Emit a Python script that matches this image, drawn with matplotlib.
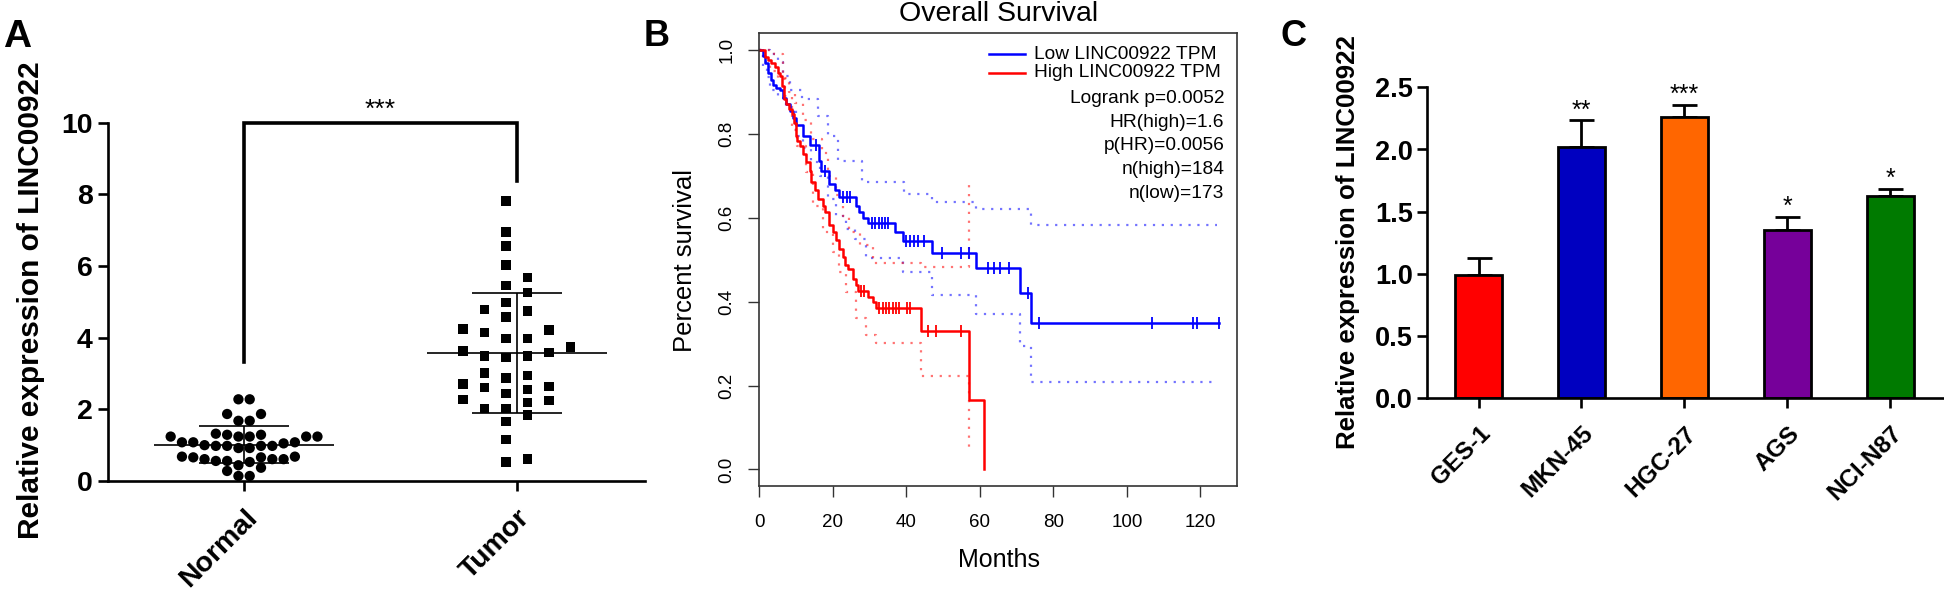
import numpy as np
import matplotlib
matplotlib.use("Agg")
import matplotlib.pyplot as plt
import matplotlib.transforms as mtransforms

plt.rcParams['font.family'] = ['Liberation Sans', 'DejaVu Sans']

# ---------------- panel A data ----------------
groups = ['Normal', 'Tumor']
normal_vals = [2.28, 2.28, 1.87, 1.87, 1.68, 1.68, 1.29, 1.24, 1.24, 1.32,
               1.24, 1.29, 1.24, 1.24, 0.92, 1.05, 1.08, 0.98, 0.98, 0.98,
               0.98, 1.08, 1.00, 0.92, 1.08, 0.44, 0.68, 0.56, 0.61, 0.53,
               0.66, 0.66, 0.61, 0.56, 0.61, 0.68, 0.14, 0.37, 0.14, 0.28]
tumor_vals = [7.81, 6.95, 6.56, 6.03, 5.68, 5.45, 5.26, 4.98, 4.79, 4.74,
              4.58, 4.21, 4.14, 4.24, 3.97, 3.97, 3.74, 3.44, 3.49, 3.49,
              3.63, 3.58, 3.02, 2.95, 2.87, 2.71, 2.56, 2.61, 2.63, 2.45,
              2.19, 2.28, 2.24, 2.03, 2.03, 1.84, 1.66, 1.16, 0.53, 0.61]

# ---------------- panel B data ----------------
low_t = [0.9, 1.5, 2.4, 3.1, 3.8, 4.7, 5.6, 6.5, 7.4, 8.3, 9.2, 9.9, 11.9, 13.7,
         16.2, 16.9, 19.1, 20.5, 21.8, 26.4, 27.1, 28.2, 29.5, 36.9, 39.0, 46.9,
         59.0, 71.0, 74.0]
low_s = [0.985, 0.968, 0.945, 0.929, 0.917, 0.909, 0.905, 0.886, 0.870, 0.854,
         0.838, 0.822, 0.795, 0.773, 0.736, 0.712, 0.680, 0.665, 0.649, 0.629,
         0.613, 0.599, 0.587, 0.566, 0.545, 0.516, 0.481, 0.420, 0.350]
low_end = 125
low_cens = [15.5, 17.8, 22.9, 23.8, 24.7, 30.7, 31.6, 32.5, 33.4, 34.3, 35.1,
            39.9, 41.0, 42.0, 43.1, 44.8, 49.8, 55.0, 57.0, 62.3, 63.8, 65.4,
            68.0, 73.0, 76.0, 106.9, 118.0, 119.0, 125.0]

high_t = [1.5, 2.4, 3.3, 4.2, 5.0, 5.6, 6.3, 6.7, 7.4, 8.1, 8.8, 9.4, 9.9, 10.3,
          11.0, 11.9, 12.8, 13.7, 14.2, 15.1, 16.0, 17.3, 18.0, 19.0, 20.0, 20.9,
          21.8, 22.7, 23.2, 24.1, 25.6, 26.4, 26.8, 29.5, 30.9, 31.8, 44.0, 57.0,
          61.1]
high_s = [0.984, 0.976, 0.968, 0.960, 0.945, 0.937, 0.913, 0.882, 0.870, 0.858,
          0.846, 0.826, 0.795, 0.783, 0.771, 0.751, 0.732, 0.712, 0.684, 0.665,
          0.645, 0.629, 0.613, 0.582, 0.566, 0.546, 0.526, 0.507, 0.487, 0.477,
          0.455, 0.440, 0.425, 0.412, 0.398, 0.384, 0.329, 0.165, 0.0]
high_cens = [27.7, 28.6, 32.7, 33.6, 34.5, 35.4, 36.3, 37.2, 38.1, 40.1, 41.0,
             46.0, 48.0, 55.0]

low_up_t = [3, 5, 6.5, 8.3, 11.7, 16, 18.7, 21.4, 28, 39.4, 47, 59, 74]
low_up_s = [0.99, 0.97, 0.937, 0.905, 0.884, 0.842, 0.795, 0.736, 0.684, 0.657,
            0.637, 0.62, 0.583]
low_lo_t = [1, 2, 3, 5, 7.4, 10, 12, 14, 16.4, 18.7, 21, 23.6, 26, 29, 39, 47,
            59, 71, 74]
low_lo_s = [0.96, 0.935, 0.905, 0.885, 0.858, 0.795, 0.765, 0.732, 0.70, 0.645,
            0.605, 0.574, 0.55, 0.503, 0.471, 0.416, 0.37, 0.294, 0.209]
low_ci_end = 124.5

high_up_t = [4, 6.5, 8, 9.7, 12, 14, 17, 18.7, 21, 22.7, 24.5, 27.3, 31, 44, 57]
high_up_s = [0.99, 0.933, 0.90, 0.874, 0.834, 0.787, 0.755, 0.70, 0.653, 0.605,
             0.566, 0.534, 0.491, 0.483, 0.688]
high_lo_t = [1, 3, 5, 7, 8.8, 10.3, 12.8, 14.6, 17.3, 20, 21.8, 23.6, 26.4, 29,
             31.8, 44, 57]
high_lo_s = [0.97, 0.95, 0.93, 0.89, 0.81, 0.771, 0.708, 0.629, 0.566, 0.519,
             0.471, 0.424, 0.361, 0.321, 0.302, 0.223, 0.045]
high_ci_end = 57

legend_labels = ['Low LINC00922 TPM', 'High LINC00922 TPM']
stats_lines = ['Logrank p=0.0052', 'HR(high)=1.6', 'p(HR)=0.0056',
               'n(high)=184', 'n(low)=173']

# ---------------- panel C data ----------------
cell_lines = ['GES-1', 'MKN-45', 'HGC-27', 'AGS', 'NCI-N87']
cell_vals = [0.99, 2.02, 2.26, 1.35, 1.63]
cell_err = [0.135, 0.215, 0.10, 0.11, 0.055]
cell_sig = ['', '**', '***', '*', '*']
cell_colors = ['#FF0000', '#0000C0', '#FF6600', '#76009A', '#007A00']

W, H = 1944, 591


def fx(px):
    return px / W


def fy(px):
    return 1 - px / H


def swarm_slots(vals, diam):
    """gridded beeswarm: half-integer slots, same slot needs diam gap"""
    vals = np.asarray(vals)
    slots = np.zeros(len(vals))
    placed = []
    for i in np.argsort(vals):
        k = 0
        done = False
        while not done:
            for c in (-(k + 0.5), k + 0.5):
                if all(abs(ps - c) >= 1 or abs(py - vals[i]) >= diam
                       for ps, py in placed):
                    slots[i] = c
                    placed.append((c, vals[i]))
                    done = True
                    break
            k += 1
    return slots


def km_xy(t, s, end):
    x = np.r_[0, t, end]
    y = np.r_[1.0, s, s[-1]]
    return x, y


def stars(ax, x, y, txt, fs):
    # put the ink centre of the asterisks at y
    ax.annotate(txt, (x, y), xytext=(0, -0.54 * fs), textcoords='offset points',
                ha='center', va='baseline', fontsize=fs, annotation_clip=False)


fig = plt.figure(figsize=(W / 100, H / 100), dpi=100)
bold = dict(fontweight='bold')
shift = mtransforms.ScaledTranslation(4 / 72, 0, fig.dpi_scale_trans)

# ======================= A =======================
axA = fig.add_axes([fx(107.7), fy(481), fx(645 - 107.7), (481 - 122.7) / H])
for pos, vals, mk, step, diam, ms in [(0, normal_vals, 'o', 0.0414, 0.27, 55),
                                      (1, tumor_vals, 's', 0.079, 0.33, 46)]:
    slots = swarm_slots(vals, diam)
    axA.scatter(pos + slots * step, vals, marker=mk, s=ms, color='black',
                edgecolors='none', zorder=3, clip_on=False)
    m = np.mean(vals)
    sd = np.std(vals, ddof=1)
    axA.hlines(m, pos - 0.33, pos + 0.33, color='black', lw=1.2, zorder=4)
    axA.hlines([m - sd, m + sd], pos - 0.165, pos + 0.165, color='black', lw=1.2, zorder=4)
    axA.vlines(pos, m - sd, m + sd, color='black', lw=1.2, zorder=4)

# significance bracket
bracket_top = 10
axA.plot([0, 0, 1, 1], [max(normal_vals) + 1.04, bracket_top, bracket_top, max(tumor_vals) + 0.55],
         color='black', lw=2.6, clip_on=False, solid_joinstyle='miter')
stars(axA, 0.5, 10.57, '***', 19)

axA.set_xlim(-0.5, 1.47)
axA.set_ylim(0, 10)
axA.set_yticks([0, 2, 4, 6, 8, 10])
axA.set_yticklabels(['0', '2', '4', '6', '8', '10'], fontsize=20.5, **bold)
axA.set_xticks([0, 1])
axA.set_xticklabels(groups, rotation=45, ha='right', va='top', rotation_mode='anchor',
                    fontsize=20.5, **bold)
for lab in axA.get_xticklabels():
    lab.set_transform(lab.get_transform() + shift)
axA.spines['top'].set_visible(False)
axA.spines['right'].set_visible(False)
for sp in ('left', 'bottom'):
    axA.spines[sp].set_linewidth(1.9)
axA.tick_params(width=1.9, length=7.2, color='black')
axA.tick_params(axis='y', pad=3.6)
axA.tick_params(axis='x', pad=10)
fig.text(fx(30.6), fy(300), 'Relative expression of LINC00922', rotation=90,
         ha='center', va='center', fontsize=21.5, **bold)

# ======================= B =======================
axB = fig.add_axes([fx(759.2), fy(486), fx(1236.5 - 759.2), (486 - 33.3) / H])
blue = '#0000FF'
red = '#FF0000'
dot = (0, (1, 3))
for t, s, end, col in [(low_up_t, low_up_s, low_ci_end, blue),
                       (low_lo_t, low_lo_s, low_ci_end, blue),
                       (high_up_t, high_up_s, high_ci_end, red),
                       (high_lo_t, high_lo_s, high_ci_end, red)]:
    x, y = km_xy(t, s, end)
    axB.step(x, y, where='post', color=col, alpha=0.55, lw=1.6, ls=dot)

x, y = km_xy(low_t, low_s, low_end)
axB.step(x, y, where='post', color=blue, lw=1.8)
x, y = km_xy(high_t, high_s, high_t[-1])
axB.step(x, y, where='post', color=red, lw=1.8)

# censor marks
low_cs = [low_s[np.searchsorted(low_t, c, side='right') - 1] for c in low_cens]
high_cs = [high_s[np.searchsorted(high_t, c, side='right') - 1] for c in high_cens]
axB.plot(low_cens, low_cs, ls='none', marker='|', ms=9, mew=1.3, color=blue)
axB.plot(high_cens, high_cs, ls='none', marker='|', ms=9, mew=1.3, color=red)

# legend + stats (R style, no box)
for i, (lab, col) in enumerate(zip(legend_labels, [blue, red])):
    yy = 0.99 - 0.045 * i
    axB.plot([62.5, 72.4], [yy, yy], color=col, lw=1.8)
    axB.text(74.6, yy, lab, ha='left', va='center', fontsize=13.8)
for i, line in enumerate(stats_lines):
    axB.text(126.5, 0.884 - 0.0565 * i, line, ha='right', va='center', fontsize=13.8)

axB.set_xlim(0, 129.8)
axB.set_ylim(-0.0395, 1.0395)
axB.set_xticks(range(0, 121, 20))
axB.set_yticks([0.0, 0.2, 0.4, 0.6, 0.8, 1.0])
axB.set_yticklabels(['0.0', '0.2', '0.4', '0.6', '0.8', '1.0'], rotation=90, va='center')
axB.tick_params(labelsize=13.5, length=8, width=1.0, color='#333333')
axB.tick_params(axis='x', pad=12)
axB.tick_params(axis='y', pad=9)
for sp in axB.spines.values():
    sp.set_linewidth(1.2)
    sp.set_color('#333333')
fig.text(fx(998.7), fy(14.3), 'Overall Survival', ha='center', va='center', fontsize=20.5)
fig.text(fx(998.7), fy(559.7), 'Months', ha='center', va='center', fontsize=18)
fig.text(fx(684.9), fy(261), 'Percent survival', rotation=90, ha='center',
         va='center', fontsize=18.5)

# ======================= C =======================
axC = fig.add_axes([fx(1426.7), fy(398.3), fx(W - 1426.7), (398.3 - 87.3) / H])
xc = np.arange(len(cell_lines))
axC.bar(xc, cell_vals, width=0.455, color=cell_colors, edgecolor='black',
        linewidth=2.0, zorder=2)
axC.errorbar(xc, cell_vals, yerr=[np.zeros(len(cell_err)), cell_err], fmt='none',
             ecolor='black', elinewidth=2.0, capsize=9, capthick=2.0, zorder=1)
for xi, v, e, sig in zip(xc, cell_vals, cell_err, cell_sig):
    if sig:
        stars(axC, xi, v + e + 0.13, sig, 18)
axC.set_xlim(-0.503, 4.52)
axC.set_ylim(0, 2.5)
axC.set_yticks([0.0, 0.5, 1.0, 1.5, 2.0, 2.5])
axC.set_yticklabels(['0.0', '0.5', '1.0', '1.5', '2.0', '2.5'], fontsize=19.5, **bold)
axC.set_xticks(xc)
axC.set_xticklabels(cell_lines, rotation=45, ha='right', va='top', rotation_mode='anchor',
                    fontsize=17.5, **bold)
for lab in axC.get_xticklabels():
    lab.set_transform(lab.get_transform() + shift)
axC.spines['top'].set_visible(False)
axC.spines['right'].set_visible(False)
for sp in ('left', 'bottom'):
    axC.spines[sp].set_linewidth(1.9)
axC.tick_params(width=1.9, length=7, color='black')
axC.tick_params(axis='y', pad=3)
axC.tick_params(axis='x', pad=10)
fig.text(fx(1347.8), fy(242), 'Relative expression of LINC00922', rotation=90,
         ha='center', va='center', fontsize=18.6, **bold)

# panel letters
fig.text(fx(17.5), fy(37), 'A', fontsize=28, ha='center', va='center', **bold)
fig.text(fx(657), fy(36), 'B', fontsize=26, ha='center', va='center', **bold)
fig.text(fx(1293), fy(36), 'C', fontsize=26, ha='center', va='center', **bold)

fig.savefig('out.png', dpi=100)
